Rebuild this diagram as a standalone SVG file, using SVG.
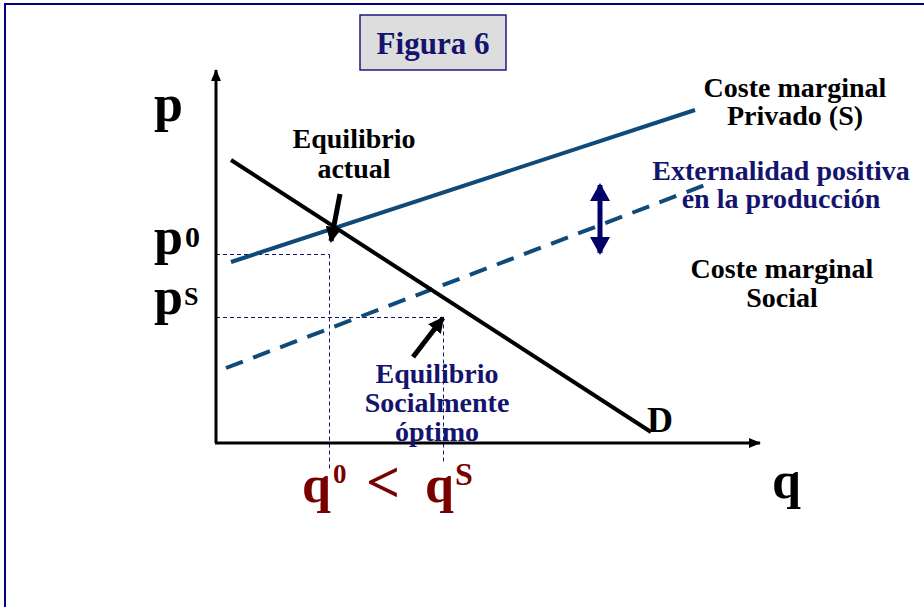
<svg xmlns="http://www.w3.org/2000/svg" width="924" height="607" viewBox="0 0 924 607">
<style>
  text { font-family: "Liberation Serif", "Times New Roman", serif; font-weight: bold; }
  .blk { fill: #000000; }
  .navy { fill: #14146e; }
  .red { fill: #7a0000; }
  .lbl { font-size: 28px; text-anchor: middle; }
  .big { font-size: 52px; }
  .guide { stroke: #14146e; stroke-width: 1; stroke-dasharray: 4 3; fill: none; }
  .priv { stroke: #0f4a78; stroke-width: 4; fill: none; }
  .soc { stroke: #0f4a78; stroke-width: 4; fill: none; stroke-dasharray: 18 11; }
  .dem { stroke: #000000; stroke-width: 4; fill: none; }
  .axis { stroke: #000000; stroke-width: 3; fill: none; }
  .ptr { stroke: #000000; stroke-width: 5; fill: none; }
</style>
<defs>
  <marker id="axhead" markerWidth="12" markerHeight="10" refX="11" refY="5" orient="auto" markerUnits="userSpaceOnUse">
    <path d="M0,0 L12,5 L0,10 z" fill="#000"/>
  </marker>
  <marker id="ptrhead" markerWidth="16" markerHeight="16" refX="14" refY="8" orient="auto" markerUnits="userSpaceOnUse">
    <path d="M0,0 L16,8 L0,16 z" fill="#000"/>
  </marker>
  <marker id="dblhead" markerWidth="18" markerHeight="20" refX="16" refY="10" orient="auto-start-reverse" markerUnits="userSpaceOnUse">
    <path d="M0,0 L18,10 L0,20 z" fill="#000066"/>
  </marker>
</defs>
<rect x="0" y="0" width="924" height="607" fill="#ffffff"/>
<rect x="5" y="4" width="940" height="640" fill="none" stroke="#000080" stroke-width="2"/>

<g id="title">
  <rect x="360" y="15" width="146" height="55" fill="#dddddd" stroke="#1a1a80" stroke-width="1.5"/>
  <text x="433" y="54" class="navy" font-size="31" text-anchor="middle">Figura 6</text>
</g>

<g id="connectors">
  <line class="guide" x1="216" y1="254.5" x2="329.5" y2="254.5"/>
  <line class="guide" x1="329.5" y1="254.5" x2="329.5" y2="470"/>
  <line class="guide" x1="216" y1="317.5" x2="443.5" y2="317.5"/>
  <line class="guide" x1="443.5" y1="317.5" x2="443.5" y2="463"/>
  <line class="axis" x1="216" y1="443" x2="216" y2="70" marker-end="url(#axhead)"/>
  <line class="axis" x1="215" y1="443" x2="760" y2="443" marker-end="url(#axhead)"/>
  <line class="priv" x1="231" y1="262" x2="695" y2="110"/>
  <line class="soc" x1="226" y1="368" x2="705" y2="185"/>
  <line class="dem" x1="231" y1="160" x2="651" y2="432"/>
  <line class="ptr" x1="340" y1="194" x2="331" y2="241" marker-end="url(#ptrhead)"/>
  <line class="ptr" x1="413" y1="357" x2="443" y2="318" marker-end="url(#ptrhead)"/>
  <line x1="600" y1="185" x2="600" y2="253" stroke="#000066" stroke-width="5" marker-start="url(#dblhead)" marker-end="url(#dblhead)"/>
</g>

<g id="axis-labels">
  <text x="154" y="121" class="blk big">p</text>
  <text x="154" y="254" class="blk big">p</text>
  <text x="185" y="247" class="blk" font-size="30">0</text>
  <text x="154" y="314" class="blk big">p</text>
  <text x="184" y="305" class="blk" font-size="26">S</text>
  <text x="772" y="498" class="blk big">q</text>
  <text x="647" y="432" class="blk" font-size="36">D</text>
</g>

<g id="quantities">
  <text x="302" y="502" class="red big">q</text>
  <text x="333" y="483" class="red" font-size="27">0</text>
  <text x="366" y="502" class="red" font-size="60">&lt;</text>
  <text x="425" y="502" class="red big">q</text>
  <text x="455" y="485" class="red" font-size="32">S</text>
</g>

<g id="equilibrio-actual">
  <text x="354" y="148" class="blk lbl">Equilibrio</text>
  <text x="354" y="178" class="blk lbl">actual</text>
</g>

<g id="coste-privado">
  <text x="795" y="97" class="blk lbl">Coste marginal</text>
  <text x="795" y="125" class="blk lbl">Privado (S)</text>
</g>

<g id="externalidad">
  <text x="781" y="180" class="navy lbl">Externalidad positiva</text>
  <text x="781" y="208" class="navy lbl">en la producción</text>
</g>

<g id="coste-social">
  <text x="782" y="278" class="blk lbl">Coste marginal</text>
  <text x="782" y="307" class="blk lbl">Social</text>
</g>

<g id="equilibrio-optimo">
  <text x="437" y="383" class="navy lbl">Equilibrio</text>
  <text x="437" y="412" class="navy lbl">Socialmente</text>
  <text x="437" y="441" class="navy lbl">óptimo</text>
</g>
</svg>
